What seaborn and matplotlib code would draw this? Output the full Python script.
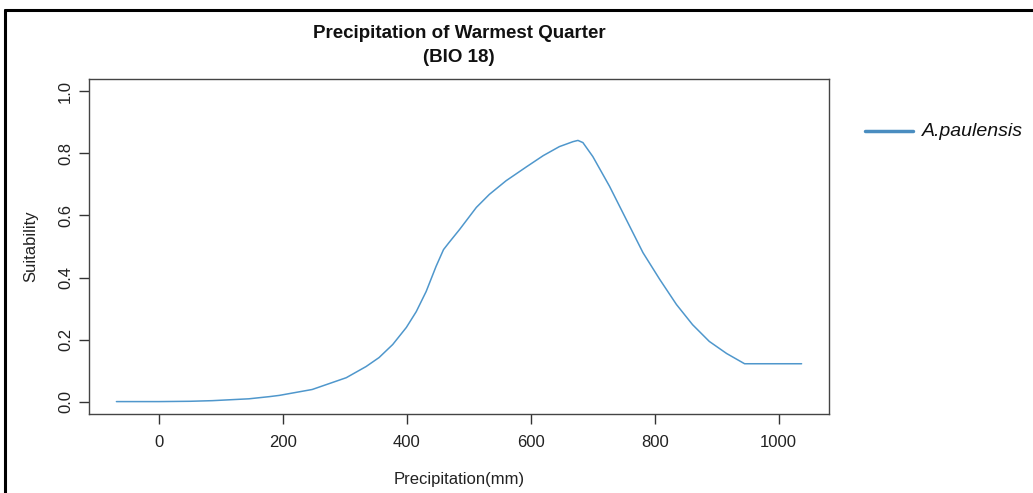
import matplotlib
matplotlib.use("Agg")
import matplotlib.pyplot as plt
from matplotlib.lines import Line2D
import seaborn as sns
import pandas as pd

# ---- data ----
precip = [-69, 0, 50, 86, 145, 178, 194, 247, 302, 334, 355, 377, 399, 415,
          431, 447, 459, 468, 485, 512, 533, 560, 593, 620, 646, 668, 676, 684,
          700, 727, 754, 781, 808, 835, 861, 888, 916, 945, 1037]
suitability = [0.0, 0.0, 0.001, 0.003, 0.009, 0.016, 0.020, 0.039, 0.077, 0.113,
               0.142, 0.184, 0.239, 0.290, 0.355, 0.436, 0.49, 0.513, 0.555,
               0.626, 0.668, 0.712, 0.757, 0.793, 0.822, 0.838, 0.842, 0.835,
               0.79, 0.694, 0.587, 0.48, 0.394, 0.313, 0.248, 0.194, 0.155,
               0.122, 0.122]
species = "A.paulensis"
x_ticks = [0, 200, 400, 600, 800, 1000]
y_ticks = [0.0, 0.2, 0.4, 0.6, 0.8, 1.0]

df = pd.DataFrame({"Precipitation": precip, "Suitability": suitability})

sns.set_style("white")
plt.rcParams["font.family"] = ["Liberation Sans", "DejaVu Sans"]

W, H = 1033, 493
fig = plt.figure(figsize=(W / 100, H / 100), dpi=100)
left, right, top, bottom = 89, 829, 79, 414
ax = fig.add_axes([left / W, 1 - bottom / H, (right - left) / W, (bottom - top) / H])

line_color = "#4f97cc"
sns.lineplot(data=df, x="Precipitation", y="Suitability", ax=ax,
             color=line_color, linewidth=1.1, legend=False)

xr = max(precip) - min(precip)
ax.set_xlim(min(precip) - 0.04 * xr, max(precip) + 0.04 * xr)
ax.set_ylim(-0.04, 1.04)
ax.set_xticks(x_ticks)
ax.set_yticks(y_ticks)
ax.set_xticklabels([str(t) for t in x_ticks], fontsize=12, color="#222222")
ax.set_yticklabels([f"{t:.1f}" for t in y_ticks], fontsize=12, color="#222222",
                   rotation=90, va="center")
ax.tick_params(axis="both", direction="out", length=7, width=1, color="#333333",
               bottom=True, left=True)
ax.tick_params(axis="x", pad=8)
ax.tick_params(axis="y", pad=4.5)
for s in ax.spines.values():
    s.set_visible(True)
    s.set_color("#444444")
    s.set_linewidth(1.0)

ax.set_xlabel("Precipitation(mm)", fontsize=12, color="#222222", labelpad=16)
ax.set_ylabel("Suitability", fontsize=12, color="#222222", labelpad=14)

fig.text(459 / W, 1 - 34 / H, "Precipitation of Warmest Quarter", ha="center",
         va="center", fontsize=13.5, fontweight="bold", color="#111111")
fig.text(459 / W, 1 - 57 / H, "(BIO 18)", ha="center", va="center",
         fontsize=13.5, fontweight="bold", color="#111111")

# legend (outside plot, right)
fig.lines.append(Line2D([865 / W, 913 / W], [1 - 131 / H, 1 - 131 / H],
                        transform=fig.transFigure, color="#4a8dc0", linewidth=2.5))
fig.text(922 / W, 1 - 132 / H, species, ha="left", va="center", fontsize=14,
         fontstyle="italic", color="#111111")

# image frame (top and left edges)
fig.lines.append(Line2D([5 / W, 1.0], [1 - 10 / H, 1 - 10 / H],
                        transform=fig.transFigure, color="black", linewidth=2.2))
fig.lines.append(Line2D([5 / W, 5 / W], [0, 1 - 10 / H],
                        transform=fig.transFigure, color="black", linewidth=2.2))

fig.savefig("out.png", dpi=100)
